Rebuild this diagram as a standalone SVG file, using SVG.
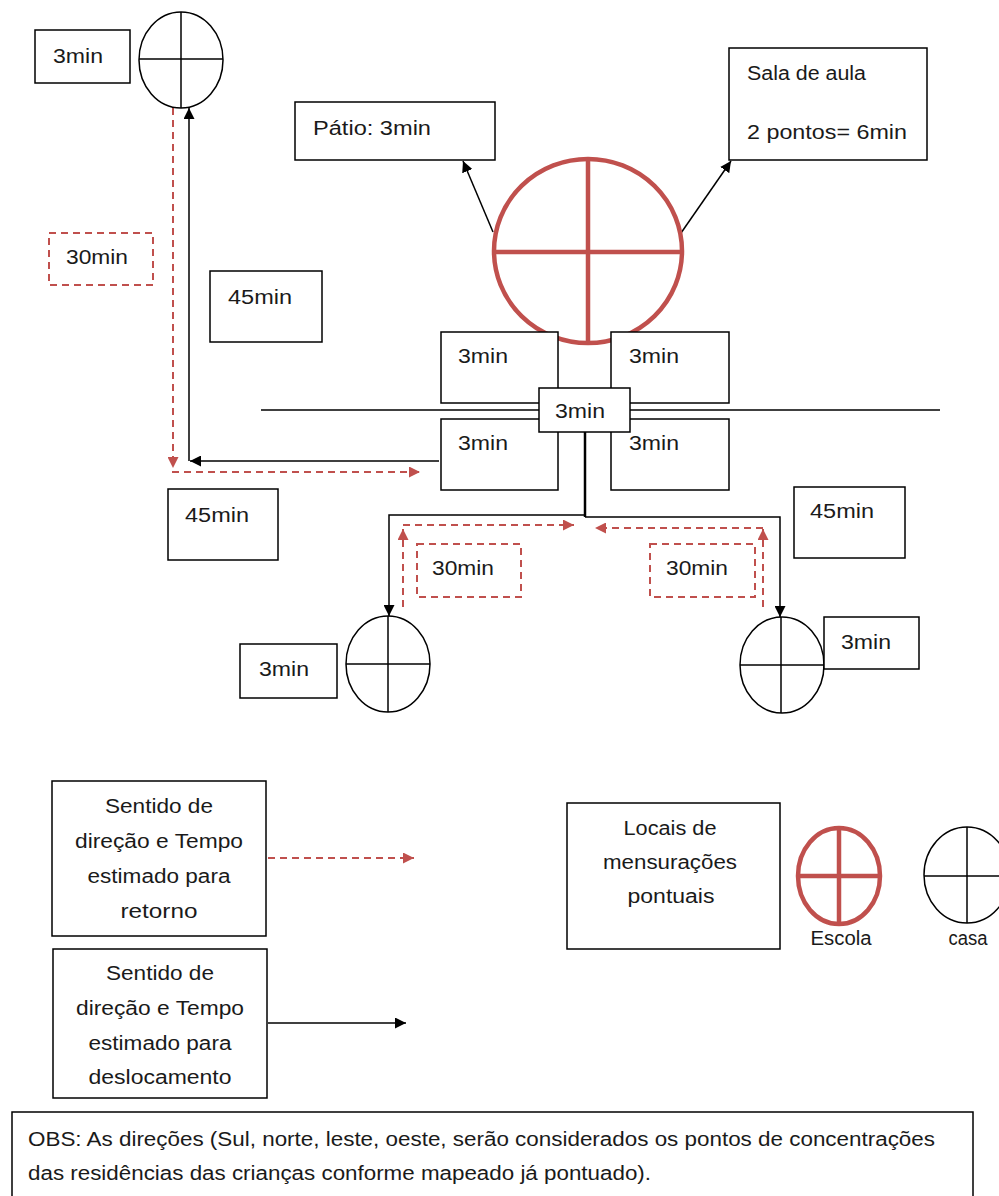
<svg xmlns="http://www.w3.org/2000/svg" width="999" height="1196" viewBox="0 0 999 1196">
<style>
.box{fill:#fff;stroke:#000;stroke-width:1.5}
.dbox{fill:#fff;stroke:#C0504D;stroke-width:2;stroke-dasharray:7 5}
.t{font-family:"Liberation Sans",Arial,sans-serif;font-size:20px;fill:#1a1a1a}
.tm{font-family:"Liberation Sans",Arial,sans-serif;font-size:20px;fill:#1a1a1a;text-anchor:middle}
.c{fill:#fff;stroke:#000;stroke-width:1.5}
.cl{stroke:#000;stroke-width:1.5}
.rc{fill:#fff;stroke:#C0504D;stroke-width:4.5}
.rl{stroke:#C0504D;stroke-width:4.5}
.k{fill:none;stroke:#000;stroke-width:1.5}
.kt{fill:none;stroke:#000;stroke-width:2.5}
.r{fill:none;stroke:#C0504D;stroke-width:2;stroke-dasharray:7 5}
</style>
<defs>
<marker id="ab" viewBox="0 0 10 10" refX="10" refY="5" markerWidth="11" markerHeight="11" markerUnits="userSpaceOnUse" orient="auto"><path d="M0,0 L10,5 L0,10 z" fill="#000"/></marker>
<marker id="ar" viewBox="0 0 10 10" refX="10" refY="5" markerWidth="11" markerHeight="11" markerUnits="userSpaceOnUse" orient="auto"><path d="M0,0 L10,5 L0,10 z" fill="#C0504D"/></marker>
</defs>
<rect width="999" height="1196" fill="#fff"/>

<line x1="261" y1="410" x2="940" y2="410" stroke="#000" stroke-width="1.5"/>

<g id="connectors">
<line class="k" x1="439" y1="461" x2="190" y2="461" marker-end="url(#ab)"/>
<line class="k" x1="189" y1="461" x2="189" y2="108" marker-end="url(#ab)"/>
<line class="r" x1="173" y1="108" x2="173" y2="468" marker-end="url(#ar)"/>
<line class="r" x1="172" y1="472" x2="420" y2="472" marker-end="url(#ar)"/>
<line class="k" x1="493" y1="232" x2="463" y2="161" marker-end="url(#ab)"/>
<line class="k" x1="681" y1="233" x2="731" y2="161" marker-end="url(#ab)"/>
<line class="kt" x1="585" y1="432" x2="585" y2="517"/>
<polyline class="k" points="585,515 389,515 389,616" marker-end="url(#ab)"/>
<polyline class="k" points="585,517 780,517 780,617" marker-end="url(#ab)"/>
<line class="r" x1="403" y1="607" x2="403" y2="529" marker-end="url(#ar)"/>
<line class="r" x1="403" y1="525" x2="574" y2="525" marker-end="url(#ar)"/>
<line class="r" x1="763" y1="607" x2="763" y2="529" marker-end="url(#ar)"/>
<line class="r" x1="763" y1="528" x2="595" y2="528" marker-end="url(#ar)"/>
<line class="r" x1="268" y1="858" x2="414" y2="858" marker-end="url(#ar)"/>
<line class="k" x1="268" y1="1023" x2="406" y2="1023" marker-end="url(#ab)"/>
</g>

<g id="casa-top">
<ellipse class="c" cx="181" cy="60" rx="42" ry="48"/>
<line class="cl" x1="181" y1="12" x2="181" y2="108"/>
<line class="cl" x1="139" y1="59" x2="223" y2="59"/>
</g>
<g id="t-top"><rect class="box" x="35" y="30" width="95" height="53"/><text class="t" x="53" y="63" textLength="50" lengthAdjust="spacingAndGlyphs">3min</text></g>
<g id="t30-left"><rect class="dbox" x="49" y="233" width="104" height="52"/><text class="t" x="66" y="264" textLength="62" lengthAdjust="spacingAndGlyphs">30min</text></g>
<g id="t45-top"><rect class="box" x="210" y="271" width="112" height="71"/><text class="t" x="228" y="304" textLength="64" lengthAdjust="spacingAndGlyphs">45min</text></g>

<g id="escola">
<ellipse class="rc" cx="588" cy="251" rx="94" ry="92"/>
<line class="rl" x1="588" y1="159" x2="588" y2="343"/>
<line class="rl" x1="494" y1="252" x2="682" y2="252"/>
</g>
<g id="patio"><rect class="box" x="295" y="102" width="200" height="58"/><text class="t" x="313" y="135" textLength="118" lengthAdjust="spacingAndGlyphs">Pátio: 3min</text></g>
<g id="sala"><rect class="box" x="729" y="48" width="198" height="112"/><text class="t" x="747" y="80" textLength="119" lengthAdjust="spacingAndGlyphs">Sala de aula</text><text class="t" x="747" y="139" textLength="160" lengthAdjust="spacingAndGlyphs">2 pontos= 6min</text></g>

<g id="t-tl"><rect class="box" x="441" y="332" width="117" height="71"/><text class="t" x="458" y="363" textLength="50" lengthAdjust="spacingAndGlyphs">3min</text></g>
<g id="t-tr"><rect class="box" x="611" y="332" width="118" height="71"/><text class="t" x="629" y="363" textLength="50" lengthAdjust="spacingAndGlyphs">3min</text></g>
<g id="t-bl"><rect class="box" x="441" y="419" width="117" height="71"/><text class="t" x="458" y="450" textLength="50" lengthAdjust="spacingAndGlyphs">3min</text></g>
<g id="t-br"><rect class="box" x="611" y="419" width="118" height="71"/><text class="t" x="629" y="450" textLength="50" lengthAdjust="spacingAndGlyphs">3min</text></g>
<g id="t-center"><rect class="box" x="539" y="388" width="91" height="44"/><text class="t" x="555" y="418" textLength="50" lengthAdjust="spacingAndGlyphs">3min</text></g>

<g id="t45-left"><rect class="box" x="168" y="489" width="110" height="71"/><text class="t" x="185" y="522" textLength="64" lengthAdjust="spacingAndGlyphs">45min</text></g>
<g id="t45-right"><rect class="box" x="794" y="487" width="111" height="71"/><text class="t" x="810" y="518" textLength="64" lengthAdjust="spacingAndGlyphs">45min</text></g>
<g id="t30-bl"><rect class="dbox" x="417" y="544" width="104" height="53"/><text class="t" x="432" y="575" textLength="62" lengthAdjust="spacingAndGlyphs">30min</text></g>
<g id="t30-br"><rect class="dbox" x="650" y="544" width="105" height="53"/><text class="t" x="666" y="575" textLength="62" lengthAdjust="spacingAndGlyphs">30min</text></g>

<g id="casa-left">
<ellipse class="c" cx="388" cy="664" rx="42" ry="48"/>
<line class="cl" x1="388" y1="616" x2="388" y2="712"/>
<line class="cl" x1="346" y1="664" x2="430" y2="664"/>
</g>
<g id="t-casa-left"><rect class="box" x="240" y="644" width="97" height="54"/><text class="t" x="259" y="676" textLength="50" lengthAdjust="spacingAndGlyphs">3min</text></g>
<g id="casa-right">
<ellipse class="c" cx="782" cy="665" rx="42" ry="48"/>
<line class="cl" x1="781" y1="617" x2="781" y2="713"/>
<line class="cl" x1="740" y1="665" x2="824" y2="665"/>
</g>
<g id="t-casa-right"><rect class="box" x="824" y="617" width="95" height="52"/><text class="t" x="841" y="649" textLength="50" lengthAdjust="spacingAndGlyphs">3min</text></g>

<g id="legend-retorno"><rect class="box" x="52" y="781" width="214" height="155"/>
<text class="tm" x="159" y="813" textLength="108" lengthAdjust="spacingAndGlyphs">Sentido de</text>
<text class="tm" x="159" y="848" textLength="168" lengthAdjust="spacingAndGlyphs">direção e Tempo</text>
<text class="tm" x="159" y="883" textLength="143" lengthAdjust="spacingAndGlyphs">estimado para</text>
<text class="tm" x="159" y="918" textLength="77" lengthAdjust="spacingAndGlyphs">retorno</text></g>
<g id="legend-desloc"><rect class="box" x="53" y="949" width="214" height="149"/>
<text class="tm" x="160" y="980" textLength="108" lengthAdjust="spacingAndGlyphs">Sentido de</text>
<text class="tm" x="160" y="1015" textLength="168" lengthAdjust="spacingAndGlyphs">direção e Tempo</text>
<text class="tm" x="160" y="1050" textLength="143" lengthAdjust="spacingAndGlyphs">estimado para</text>
<text class="tm" x="160" y="1084" textLength="143" lengthAdjust="spacingAndGlyphs">deslocamento</text></g>
<g id="legend-locais"><rect class="box" x="567" y="803" width="213" height="146"/>
<text class="tm" x="670" y="835" textLength="93" lengthAdjust="spacingAndGlyphs">Locais de</text>
<text class="tm" x="670" y="869" textLength="134" lengthAdjust="spacingAndGlyphs">mensurações</text>
<text class="tm" x="671" y="903" textLength="87" lengthAdjust="spacingAndGlyphs">pontuais</text></g>
<g id="legend-escola">
<ellipse class="rc" cx="839" cy="876" rx="41" ry="48"/>
<line class="rl" x1="839" y1="828" x2="839" y2="924"/>
<line class="rl" x1="798" y1="876" x2="880" y2="876"/>
<text class="tm" x="841" y="945" textLength="61" lengthAdjust="spacingAndGlyphs">Escola</text>
</g>
<g id="legend-casa">
<ellipse class="c" cx="967" cy="875" rx="43" ry="48"/>
<line class="cl" x1="967" y1="827" x2="967" y2="923"/>
<line class="cl" x1="924" y1="876" x2="1010" y2="876"/>
<text class="tm" x="968" y="945" textLength="39" lengthAdjust="spacingAndGlyphs">casa</text>
</g>
<g id="obs"><rect class="box" x="12" y="1112" width="961" height="100"/>
<text class="t" x="28" y="1146" textLength="907" lengthAdjust="spacingAndGlyphs">OBS: As direções (Sul, norte, leste, oeste, serão considerados os pontos de concentrações</text>
<text class="t" x="28" y="1180" textLength="623" lengthAdjust="spacingAndGlyphs">das residências das crianças conforme mapeado já pontuado).</text></g>
</svg>
